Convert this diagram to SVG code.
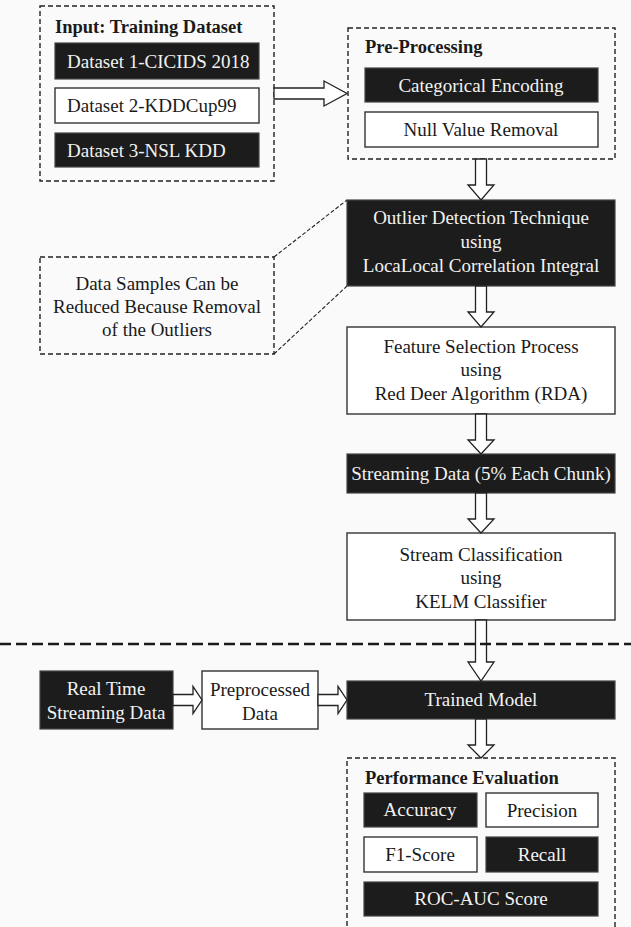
<svg xmlns="http://www.w3.org/2000/svg" width="631" height="927" viewBox="0 0 631 927">
<style>
text{font-family:"Liberation Serif","Times New Roman",serif;font-size:19px;fill:#1a1a1a}
.t{text-anchor:middle}
.w{fill:#f2f2f2}
.b{font-weight:bold;font-size:18.5px}
.dash{fill:none;stroke:#222;stroke-width:1.4;stroke-dasharray:5 3}
.blk{fill:#1c1c1c;stroke:#444;stroke-width:1.2}
.wht{fill:#fff;stroke:#333;stroke-width:1.4}
.arr{fill:#fff;stroke:#222;stroke-width:1.3}
</style>
<rect width="631" height="927" fill="#fafafa"/>

<g id="input">
<rect class="dash" x="40" y="6" width="234" height="175"/>
<text class="b" x="55" y="33">Input: Training Dataset</text>
<rect class="blk" x="55" y="43" width="204" height="36"/>
<text class="w" x="67" y="68">Dataset 1-CICIDS 2018</text>
<rect class="wht" x="55" y="88" width="204" height="35"/>
<text x="67" y="112">Dataset 2-KDDCup99</text>
<rect class="blk" x="55" y="133" width="204" height="34"/>
<text class="w" x="67" y="157">Dataset 3-NSL KDD</text>
</g>

<g id="preprocessing">
<rect class="dash" x="348" y="28" width="267" height="131"/>
<text class="b" x="365" y="53">Pre-Processing</text>
<rect class="blk" x="365" y="68" width="233" height="34"/>
<text class="t w" x="481" y="92">Categorical Encoding</text>
<rect class="wht" x="365" y="112" width="233" height="35"/>
<text class="t" x="481" y="136">Null Value Removal</text>
</g>

<g id="outlier">
<rect class="blk" x="347" y="200" width="268" height="86"/>
<text class="t w" x="481" y="224">Outlier Detection Technique</text>
<text class="t w" x="481" y="248">using</text>
<text class="t w" x="481" y="272">LocaLocal Correlation Integral</text>
</g>

<g id="note">
<rect class="dash" x="40" y="257" width="234" height="97"/>
<text class="t" x="157" y="290">Data Samples Can be</text>
<text class="t" x="157" y="313">Reduced Because Removal</text>
<text class="t" x="157" y="336">of the Outliers</text>
</g>

<g id="feature">
<rect class="wht" x="347" y="327" width="268" height="87"/>
<text class="t" x="481" y="353">Feature Selection Process</text>
<text class="t" x="481" y="376">using</text>
<text class="t" x="481" y="400">Red Deer Algorithm (RDA)</text>
</g>

<g id="streaming">
<rect class="blk" x="347" y="454" width="268" height="39"/>
<text class="t w" x="481" y="480">Streaming Data (5% Each Chunk)</text>
</g>

<g id="classification">
<rect class="wht" x="347" y="533" width="268" height="87"/>
<text class="t" x="481" y="561">Stream Classification</text>
<text class="t" x="481" y="584">using</text>
<text class="t" x="481" y="608">KELM Classifier</text>
</g>

<g id="realtime">
<rect class="blk" x="40" y="671" width="133" height="58"/>
<text class="t w" x="106" y="695">Real Time</text>
<text class="t w" x="106" y="719">Streaming Data</text>
</g>

<g id="preprocessed">
<rect class="wht" x="202" y="671" width="116" height="58"/>
<text class="t" x="260" y="696">Preprocessed</text>
<text class="t" x="260" y="720">Data</text>
</g>

<g id="trained">
<rect class="blk" x="347" y="681" width="268" height="38"/>
<text class="t w" x="481" y="706">Trained Model</text>
</g>

<g id="performance">
<rect class="dash" x="347" y="758" width="268" height="180"/>
<text class="b" x="365" y="784">Performance Evaluation</text>
<rect class="blk" x="364" y="793" width="113" height="34"/>
<text class="t w" x="420" y="816">Accuracy</text>
<rect class="wht" x="486" y="793" width="112" height="34"/>
<text class="t" x="542" y="817">Precision</text>
<rect class="wht" x="364" y="837" width="113" height="35"/>
<text class="t" x="420" y="861">F1-Score</text>
<rect class="blk" x="486" y="837" width="112" height="35"/>
<text class="t w" x="542" y="861">Recall</text>
<rect class="blk" x="364" y="882" width="234" height="34"/>
<text class="t w" x="481" y="905">ROC-AUC Score</text>
</g>

<g id="connectors">
<polygon class="arr" points="274,88 324,88 324,81 347,93.5 324,106 324,99 274,99"/>
<polygon class="arr" points="475.5,159 486.5,159 486.5,185 494,185 481,200 468,185 475.5,185"/>
<polygon class="arr" points="475.5,286 486.5,286 486.5,312 494,312 481,327 468,312 475.5,312"/>
<polygon class="arr" points="475.5,414 486.5,414 486.5,440 494,440 481,454 468,440 475.5,440"/>
<polygon class="arr" points="475.5,493 486.5,493 486.5,519 494,519 481,533 468,519 475.5,519"/>
<polygon class="arr" points="475.5,620 486.5,620 486.5,662 494,662 481,681 468,662 475.5,662"/>
<polygon class="arr" points="475.5,719 486.5,719 486.5,745 494,745 481,758 468,745 475.5,745"/>
<polygon class="arr" points="173,694.5 193,694.5 193,686.5 202,700 193,713.5 193,705.5 173,705.5"/>
<polygon class="arr" points="318,694.5 338,694.5 338,686.5 347,700 338,713.5 338,705.5 318,705.5"/>
<line x1="274" y1="257" x2="347" y2="200" stroke="#222" stroke-width="1.1" stroke-dasharray="4 2"/>
<line x1="274" y1="354" x2="347" y2="286" stroke="#222" stroke-width="1.1" stroke-dasharray="4 2"/>
<line x1="0" y1="644" x2="631" y2="644" stroke="#1a1a1a" stroke-width="2.5" stroke-dasharray="11 5"/>
</g>
</svg>
